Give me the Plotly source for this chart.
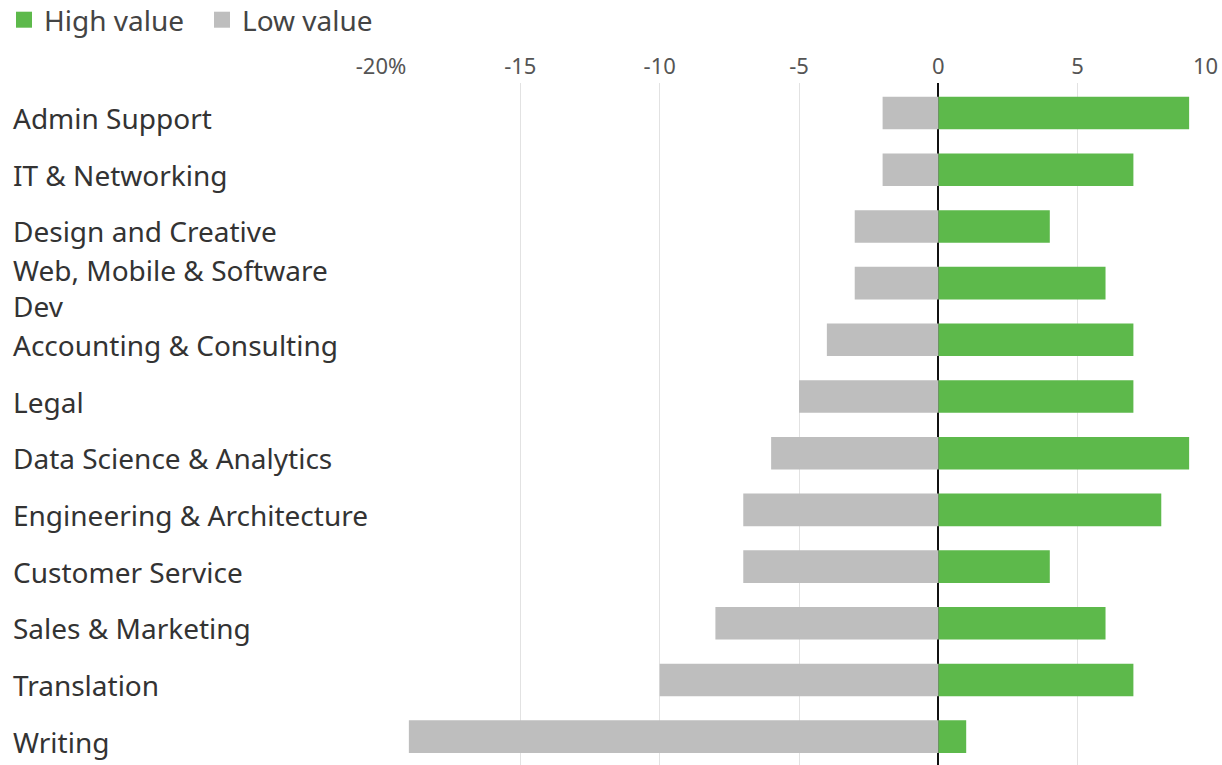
import plotly.graph_objects as go

categories = ["Admin Support", "IT & Networking", "Design and Creative",
              "Web, Mobile & Software<br>Dev", "Accounting & Consulting", "Legal",
              "Data Science & Analytics", "Engineering & Architecture",
              "Customer Service", "Sales & Marketing", "Translation", "Writing"]
high_values = [9, 7, 4, 6, 7, 7, 9, 8, 4, 6, 7, 1]
low_values = [-2, -2, -3, -3, -4, -5, -6, -7, -7, -8, -10, -19]
tick_vals = [-20, -15, -10, -5, 0, 5, 10]
tick_text = ["-20%", "-15", "-10", "-5", "0", "5", "10&nbsp;&nbsp;&nbsp;&nbsp;"]

GREEN, GRAY = "#5DB94B", "#BEBEBE"
FONT = "Noto Sans"
W, H = 1222, 765
ML, MR, MT, MB = 381, 5, 83, 0
PW, PH = W - ML - MR, H - MT - MB

fig = go.Figure()
fig.add_trace(go.Bar(y=categories, x=high_values, orientation="h", name="High value",
                     marker=dict(color=GREEN, line_width=0), width=0.575, showlegend=False))
fig.add_trace(go.Bar(y=categories, x=low_values, orientation="h", name="Low value",
                     marker=dict(color=GRAY, line_width=0), width=0.575, showlegend=False))
# legend entries
for nm, col in [("High value", GREEN), ("Low value", GRAY)]:
    fig.add_trace(go.Scatter(x=[None], y=[None], mode="markers", name=nm,
                             marker=dict(symbol="square", size=20, color=col)))

for c in categories:
    fig.add_annotation(x=(11 - ML) / PW, xref="paper", xanchor="left",
                       y=c, yref="y", yshift=-5, text=c, showarrow=False, align="left",
                       font=dict(family=FONT, size=28, color="#333333"))

fig.update_layout(
    width=W, height=H,
    margin=dict(l=ML, r=MR, t=MT, b=MB, autoexpand=False),
    plot_bgcolor="white", paper_bgcolor="white",
    barmode="relative",
    font=dict(family=FONT, color="#444444"),
    legend=dict(orientation="h", xref="container", yref="paper", x=4 / W, y=1 + 88 / PH,
                xanchor="left", yanchor="top", font=dict(family=FONT, size=28, color="#444444"),
                traceorder="normal", itemwidth=30, entrywidth=153, entrywidthmode="pixels"),
    xaxis=dict(side="top", range=[-20, 10], tickvals=tick_vals, ticktext=tick_text,
               showgrid=True, gridcolor="#E2E2E2", gridwidth=1,
               zeroline=True, zerolinecolor="#111111", zerolinewidth=1.5,
               tickfont=dict(family=FONT, size=22, color="#555555"),
               ticks="", ticklabelstandoff=4, ticklabeloverflow="allow",
               showline=False, fixedrange=True, automargin=False),
    yaxis=dict(autorange=False, range=[11.5, -0.53], showticklabels=False,
               showgrid=False, zeroline=False, showline=False, automargin=False),
)

fig.write_html("out.html", config={"displayModeBar": False},
               post_script="document.body.style.margin='0';document.body.style.overflow='hidden';")
